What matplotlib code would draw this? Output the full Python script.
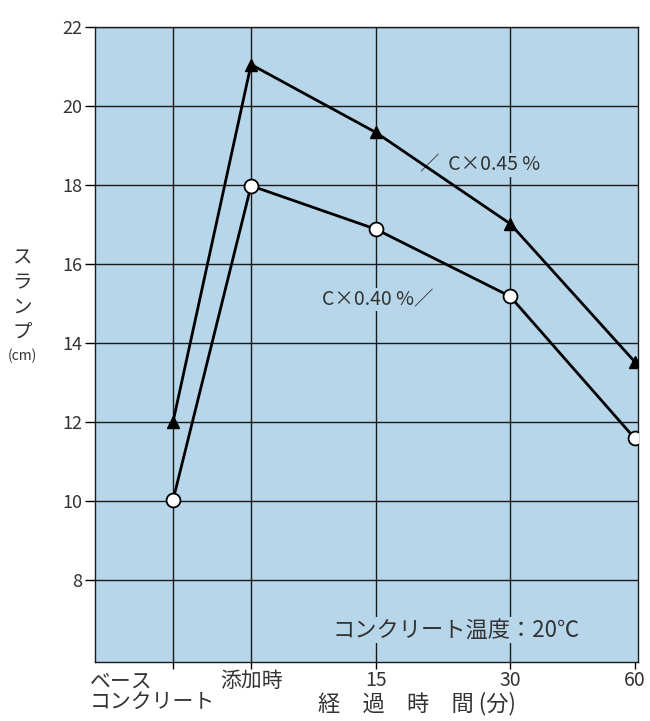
import matplotlib
matplotlib.use("Agg")
import matplotlib.pyplot as plt
from matplotlib.transforms import ScaledTranslation

plt.rcParams['font.family'] = ['Noto Sans CJK JP', 'DejaVu Sans']

categories = ["ベース\nコンクリート", "添加時", "15", "30", "60"]
x_pos = [1.0, 2.0, 3.6, 5.32, 6.92]
slump_045 = [12.0, 21.05, 19.33, 17.02, 13.52]
slump_040 = [10.02, 17.98, 16.88, 15.18, 11.58]
y_ticks = [8, 10, 12, 14, 16, 18, 20, 22]

bg = "#b7d6ea"
txt = "#333333"
fig = plt.figure(figsize=(6.5, 7.21), dpi=100)
ax = fig.add_axes([95/650, 1-662/721, (638-95)/650, (662-27)/721])
ax.set_facecolor(bg)
ax.set_xlim(0, 6.96)
ax.set_ylim(5.92, 22)

for y in y_ticks:
    ax.axhline(y, color="#1a1a1a", lw=1.0, zorder=1)
for x in x_pos[:-1]:
    ax.axvline(x, color="#1a1a1a", lw=1.0, zorder=1)

ax.plot(x_pos, slump_045, color="black", lw=2.0, marker="^", ms=8,
        mfc="black", mec="black", zorder=4)
ax.plot(x_pos, slump_040, color="black", lw=2.0, marker="o", ms=10,
        mfc="white", mec="black", mew=1.3, zorder=4)

ax.set_yticks(y_ticks)
ax.set_yticklabels([str(v) for v in y_ticks], fontsize=13, color=txt)
ax.set_xticks(x_pos)
ax.set_xticklabels(categories, fontsize=15, color=txt, linespacing=0.9)
ax.tick_params(axis="y", direction="out", length=7, width=1.0, pad=2)
ax.tick_params(axis="x", direction="out", length=5, width=1.0, pad=1)
for lab in ax.get_xticklabels()[2:]:
    lab.set_fontsize(14)
lab0 = ax.get_xticklabels()[0]
lab0.set_ha("left")
lab0.set_transform(lab0.get_transform() + ScaledTranslation(-0.83, 0, fig.dpi_scale_trans))

for s in ax.spines.values():
    s.set_color("#1a1a1a")
    s.set_linewidth(1.0)

box = dict(facecolor=bg, edgecolor="none", pad=1)
ax.text(4.17, 18.5, "／  C×0.45 %", fontsize=14, color=txt, ha="left",
        va="center", bbox=box, zorder=3)
ax.text(2.91, 15.1, "C×0.40 %／", fontsize=14, color=txt, ha="left",
        va="center", bbox=box, zorder=3)
ax.text(4.63, 6.73, "コンクリート温度：20℃", fontsize=16, color=txt,
        ha="center", va="center", bbox=box, zorder=3)

fig.text(417/650, 1-704/721, "経　過　時　間 (分)", fontsize=16, color=txt,
         ha="center", va="center")
fig.text(22/650, 1-295/721, "ス\nラ\nン\nプ", fontsize=14, color=txt,
         ha="center", va="center", linespacing=1.25)
fig.text(22/650, 1-356/721, "(cm)", fontsize=10, color=txt,
         ha="center", va="center")

fig.savefig("out.png", dpi=100)
